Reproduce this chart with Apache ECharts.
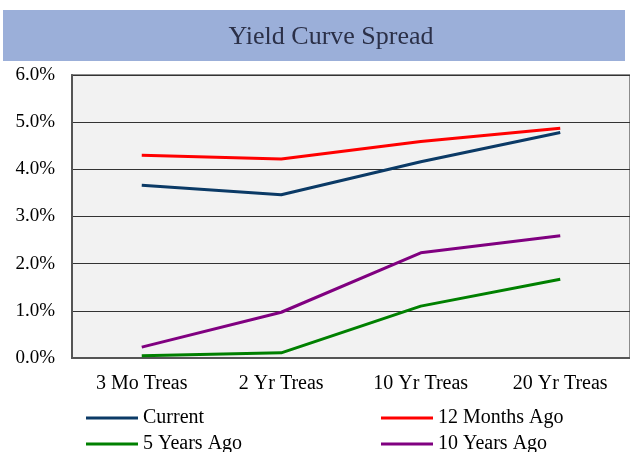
<!DOCTYPE html>
<html>
<head>
<meta charset="utf-8">
<script src="https://cdn.jsdelivr.net/npm/echarts@6/dist/echarts.min.js"></script>
<style>
  html, body { margin: 0; padding: 0; background: #fff; }
  #main { width: 630px; height: 452px; }
</style>
</head>
<body>
<div id="main"></div>
<script>
// data
const categories = ['3 Mo Treas', '2 Yr Treas', '10 Yr Treas', '20 Yr Treas']
const current = [3.66, 3.46, 4.16, 4.78]
const monthsAgo12 = [4.30, 4.22, 4.59, 4.87]
const yearsAgo5 = [0.05, 0.11, 1.10, 1.67]
const yearsAgo10 = [0.23, 0.97, 2.23, 2.59]

const font = "'Liberation Serif', 'Times New Roman', serif"

let myChart = echarts.init(document.getElementById('main'))

function lineSeries(name, data, color) {
  return {
    name: name,
    type: 'line',
    data: data,
    symbol: 'none',
    lineStyle: { color: color, width: 3 },
    itemStyle: { color: color }
  }
}

function legendItem(name, left, top) {
  return {
    data: [name],
    left: left,
    top: top,
    padding: 0,
    icon: 'rect',
    itemWidth: 52,
    itemHeight: 3,
    textStyle: { fontFamily: font, fontSize: 20, color: '#000' }
  }
}

const option = {
  animation: false,
  backgroundColor: '#fff',
  graphic: [
    {
      type: 'rect',
      z: -1,
      shape: { x: 3, y: 10, width: 622, height: 51 },
      style: { fill: '#9BAFD9' }
    }
  ],
  title: {
    text: 'Yield Curve Spread',
    left: 326,
    top: 19,
    textAlign: 'center',
    textStyle: { fontFamily: font, fontSize: 26, fontWeight: 'normal', color: '#2B3048' }
  },
  legend: [
    legendItem('Current', 86, 408),
    legendItem('12 Months Ago', 381, 408),
    legendItem('5 Years Ago', 86, 434),
    legendItem('10 Years Ago', 381, 434)
  ],
  grid: {
    left: 72,
    right: -3,
    top: 75,
    bottom: 94,
    show: true,
    backgroundColor: '#F2F2F2',
    borderColor: '#8C8C8C',
    borderWidth: 2
  },
  xAxis: {
    type: 'category',
    data: categories,
    boundaryGap: true,
    axisLine: { lineStyle: { color: '#555', width: 2 } },
    axisTick: { inside: true, length: 5, lineStyle: { color: '#555' } },
    axisLabel: { fontFamily: font, fontSize: 20, color: '#000', margin: 16 }
  },
  yAxis: {
    type: 'value',
    min: 0,
    max: 6,
    interval: 1,
    axisLine: { show: true, lineStyle: { color: '#555', width: 2 } },
    axisTick: { show: false },
    splitLine: { lineStyle: { color: '#333', width: 1 } },
    axisLabel: {
      fontFamily: font, fontSize: 19, color: '#000', margin: 17,
      formatter: v => v.toFixed(1) + '%'
    }
  },
  series: [
    lineSeries('Current', current, '#0B3A66'),
    lineSeries('12 Months Ago', monthsAgo12, '#FF0000'),
    lineSeries('5 Years Ago', yearsAgo5, '#008000'),
    lineSeries('10 Years Ago', yearsAgo10, '#800080')
  ]
}
myChart.setOption(option)
</script>
</body>
</html>
